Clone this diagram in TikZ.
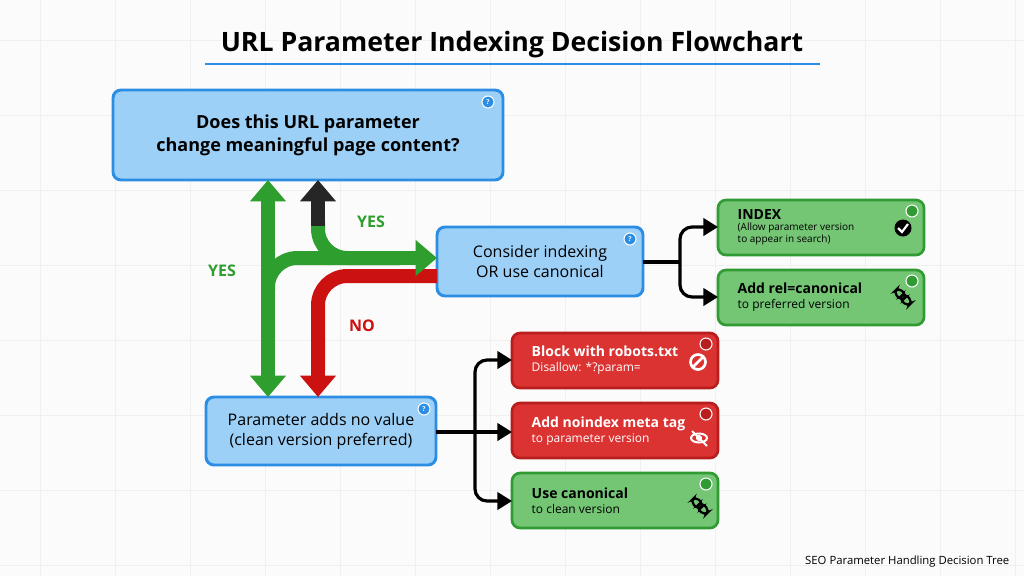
\documentclass[tikz,border=0pt]{standalone}
\usepackage{fontspec}
\setmainfont{Open Sans}
\usetikzlibrary{arrows.meta}
\definecolor{qfill}{HTML}{9DD0F7}
\definecolor{qline}{HTML}{2B8DE3}
\definecolor{gfill}{HTML}{74C675}
\definecolor{gline}{HTML}{2F9B32}
\definecolor{rfill}{HTML}{DB3232}
\definecolor{rline}{HTML}{B81E1E}
\definecolor{garrow}{HTML}{2E9E2E}
\definecolor{rarrow}{HTML}{CC1111}
\tikzset{
  qbox/.style={draw=qline, fill=qfill, line width=2.2pt, rounded corners=6pt},
  gbox/.style={draw=gline, fill=gfill, line width=2pt, rounded corners=6pt},
  rbox/.style={draw=rline, fill=rfill, line width=2pt, rounded corners=6pt},
  fat/.style={line width=10.5pt, rounded corners=22pt},
  fork/.style={line width=2.4pt, rounded corners=9pt, -{Triangle[length=11pt,width=13pt]}},
  dot/.style={circle, draw=white, line width=0.8pt, inner sep=0pt, minimum size=9pt, font=\fontsize{5}{5}\selectfont\bfseries}
}
\begin{document}
\begin{tikzpicture}[x=0.75pt,y=-0.75pt]
  \useasboundingbox[fill=white!97!gray] (0,0) rectangle (1024,576);
  % faint grid
  \foreach \gx in {40,115,...,1024} \draw[black!6] (\gx,0) -- (\gx,576);
  \foreach \gy in {40,115,...,576} \draw[black!6] (0,\gy) -- (1024,\gy);
  % title
  \node (title) at (512,45) {\fontsize{20}{24}\selectfont\bfseries URL Parameter Indexing Decision Flowchart};
  \draw[qline, line width=1pt] (205,64) -- (820,64);
  % boxes
  \draw[qbox] (113,90) rectangle (503,180);
  \node (q) at (308,135) [align=center, font=\fontsize{13.5}{17}\selectfont\bfseries]
    {Does this URL parameter\\change meaningful page content?};
  \draw[qbox] (437,227) rectangle (643,296);
  \node (consider) at (540,261) [align=center, font=\fontsize{12}{15}\selectfont]
    {Consider indexing\\OR use canonical};
  \draw[qbox] (206,397) rectangle (436,465);
  \node (param) at (321,431) [align=center, font=\fontsize{12}{15}\selectfont]
    {Parameter adds no value\\(clean version preferred)};
  \draw[gbox] (718,200) rectangle (924,255);
  \node (index) at (733,227) [anchor=west, align=left, font=\fontsize{7.5}{8.5}\selectfont]
    {{\fontsize{10.5}{12}\selectfont\bfseries INDEX}\\(Allow parameter version\\to appear in search)};
  \draw[gbox] (718,270) rectangle (924,325);
  \node (relcan) at (733,297) [anchor=west, align=left, font=\fontsize{9}{11}\selectfont]
    {{\fontsize{10.5}{12}\selectfont\bfseries Add rel=canonical}\\to preferred version};
  \draw[rbox] (512,333) rectangle (718,388);
  \node (robots) at (527,360) [anchor=west, align=left, text=white, font=\fontsize{9}{11}\selectfont]
    {{\fontsize{10.5}{12}\selectfont\bfseries Block with robots.txt}\\Disallow: *?param=};
  \draw[rbox] (512,403) rectangle (718,458);
  \node (noindex) at (527,431) [anchor=west, align=left, text=white, font=\fontsize{9}{11}\selectfont]
    {{\fontsize{10.5}{12}\selectfont\bfseries Add noindex meta tag}\\to parameter version};
  \draw[gbox] (512,473) rectangle (718,528);
  \node (usecan) at (527,501) [anchor=west, align=left, font=\fontsize{9}{11}\selectfont]
    {{\fontsize{10.5}{12}\selectfont\bfseries Use canonical}\\to clean version};
  % corner badges
  \foreach \bx/\by/\bc in {488/102/qline,630/239/qline,424/409/qline}
    \node[dot, fill=\bc] at (\bx,\by) {\textcolor{white}{?}};
  \foreach \bx/\by in {912/211,912/281,706/484}
    \node[dot, fill=gline] at (\bx,\by) {};
  \foreach \bx/\by in {706/344,706/414}
    \node[dot, fill=rline] at (\bx,\by) {};
  % icons
  \fill (903,228) circle (8.5);
  \draw[white, line width=1.6pt] (898,228) -- (902,232) -- (908,224);
  \draw[white, line width=2pt] (698,362) circle (7.5);
  \draw[white, line width=2pt] (693,367) -- (703,357);
  \begin{scope}[white, line width=1.5pt]
    \draw (699,438) ellipse (8 and 4.5);
    \draw (699,438) circle (2);
    \draw (692,431) -- (707,446);
  \end{scope}
  \foreach \lx/\ly in {903/297,700/506} {
    \begin{scope}[shift={(\lx,\ly)}, rotate=-45, line width=1.7pt]
      \draw[rounded corners=3.5pt] (-10,-3.5) rectangle (2,3.5);
      \draw[rounded corners=3.5pt] (-2,-3.5) rectangle (10,3.5);
    \end{scope}
  }
  % thick decision arrows
  \coordinate (yesL) at (268,180);
  \coordinate (yesB) at (268,397);
  \draw[garrow, line width=10.5pt, {Triangle[length=16pt,width=26pt]}-{Triangle[length=16pt,width=26pt]}] (yesL) -- (yesB);
  \draw[fat, garrow] (268,290) -- (268,258) -- (400,258);
  \draw[fat, garrow] (318,222) -- (318,258) -- (400,258);
  \draw[black!85, line width=10.5pt, -{Triangle[length=16pt,width=26pt]}] (318,226) -- (318,180);
  \draw[fat, rarrow] (437,276) -- (318,276) -- (318,370);
  \draw[rarrow, line width=10.5pt, -{Triangle[length=16pt,width=26pt]}] (318,360) -- (318,397);
  \draw[garrow, line width=10.5pt, -{Triangle[length=16pt,width=26pt]}] (380,258) -- (437,258);
  \node[text=garrow, font=\fontsize{12}{14}\selectfont\bfseries] (yes1) at (371,222) {YES};
  \node[text=garrow, font=\fontsize{12}{14}\selectfont\bfseries] (yes2) at (222,271) {YES};
  \node[text=rarrow, font=\fontsize{12}{14}\selectfont\bfseries] (no) at (362,326) {NO};
  % forks
  \coordinate (fa) at (680,262);
  \draw[line width=2.4pt] (643,262) -- (fa);
  \draw[fork] (fa) -- (680,227) -- (718,227);
  \draw[fork] (fa) -- (680,297) -- (718,297);
  \coordinate (fb) at (475,432);
  \draw[line width=2.4pt] (436,432) -- (fb);
  \draw[fork] (fb) -- (475,360) -- (512,360);
  \draw[fork] (fb) -- (512,432);
  \draw[fork] (fb) -- (475,501) -- (512,501);
  % footer
  \node[anchor=east, font=\fontsize{8.5}{10}\selectfont] (foot) at (1014,562) {SEO Parameter Handling Decision Tree};
\end{tikzpicture}
\end{document}
